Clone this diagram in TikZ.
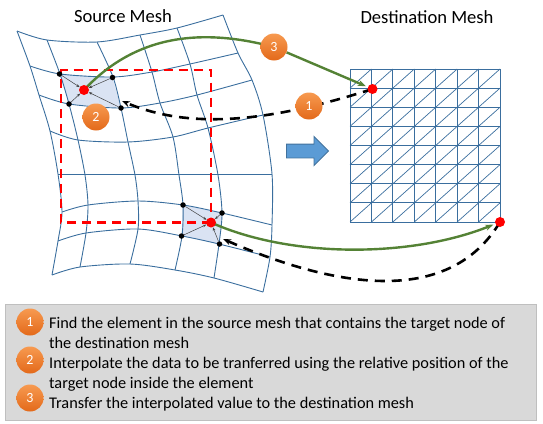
\documentclass[tikz,border=0pt]{standalone}
\usepackage{fontspec}
\setmainfont{Carlito}
\usepackage{xcolor}
\usepackage{tikz}
\usetikzlibrary{arrows.meta,positioning,shapes.arrows,backgrounds}
\definecolor{meshblue}{HTML}{3A6E9E}
\definecolor{cellfill}{HTML}{DAE3F3}
\definecolor{movegreen}{HTML}{548235}
\definecolor{arrowblue}{HTML}{5B9BD5}
\definecolor{arrowedge}{HTML}{41719C}
\definecolor{badgetop}{HTML}{F79A50}
\definecolor{badgelow}{HTML}{E3691A}

\begin{document}
\begin{tikzpicture}[
    x=1pt, y=-1pt,
    title/.style={font=\fontsize{18.6}{22}\selectfont, inner sep=0pt},
    legendtext/.style={font=\fontsize{16.3}{20}\selectfont, align=left, anchor=north west, inner sep=0pt},
    badge/.style={circle, minimum size=27pt, inner sep=0pt, text=white, font=\fontsize{14}{16}\selectfont, top color=badgetop, bottom color=badgelow},
    corner/.style={circle, fill=black, minimum size=5.5pt, inner sep=0pt},
    target/.style={circle, fill=red, minimum size=10pt, inner sep=0pt},
    mesh/.style={meshblue, line width=0.9pt},
    cell/.style={fill=cellfill},
    redbox/.style={red, line width=2.7pt, dash pattern=on 9pt off 6pt},
    pull/.style={-{Stealth[length=3.5pt]}, black!75, line width=0.5pt},
    send/.style={-{Stealth[length=8pt]}, movegreen, line width=2.4pt, shorten >=2pt},
    back/.style={-{Stealth[length=8pt]}, black, line width=2.6pt, dash pattern=on 10pt off 7pt}
]
\useasboundingbox (0,0) rectangle (543,423);
\node[draw=black!25, fill=black!15, line width=0.8pt, minimum width=531pt, minimum height=116pt, inner sep=0pt] (legend) at (270.5,362) {};

\node[title] (srctitle) at (123,16) {Source Mesh};
\node[title] (dsttitle) at (427,17) {Destination Mesh};

\node[corner] (cornerA) at (59.5,74) {};
\node[corner] (cornerB) at (112.5,77.5) {};
\node[corner] (cornerC) at (121,108) {};
\node[corner] (cornerD) at (69,104) {};
\node[corner] (cornerE) at (183,205) {};
\node[corner] (cornerF) at (222,213) {};
\node[corner] (cornerG) at (219.5,244) {};
\node[corner] (cornerH) at (181.5,236) {};
\node[target] (srcA) at (84,90) {};
\node[target] (srcB) at (211,222.5) {};
\node[target] (dstA) at (372.5,89) {};
\node[target] (dstB) at (500,222) {};
\coordinate (tipA) at (122,101);
\coordinate (tipB) at (223,239);

\node[badge] (numA) at (309,106) {1};
\node[badge] (numB) at (96,117) {2};
\node[badge] (numC) at (274,47) {3};
\node[single arrow, draw=arrowedge, fill=arrowblue, line width=0.9pt, minimum height=42pt, inner xsep=0pt, inner ysep=6.5pt, single arrow head extend=7.5pt, single arrow head indent=0pt] (flow) at (304,151) {};

\node[badge] (keyA) at (30,322) {1};
\node[badge] (keyB) at (30,360) {2};
\node[badge] (keyC) at (30,398) {3};
\node[legendtext] (stepA) at (49,316.5) {Find the element in the source mesh that contains the target node of\\the destination mesh};
\node[legendtext] (stepB) at (49,356.5) {Interpolate the data to be tranferred using the relative position of the\\target node inside the element};
\node[legendtext] (stepC) at (49,396.5) {Transfer the interpolated value to the destination mesh};

\begin{scope}[on background layer]
\fill[cell] (cornerA.center) -- (cornerB.center) -- (cornerC.center) -- (cornerD.center) -- cycle;
\fill[cell] (cornerE.center) -- (cornerF.center) -- (cornerG.center) -- (cornerH.center) -- cycle;
\draw[mesh] plot[smooth] coordinates {(17,31) (47,40) (97,42) (140,35) (177,28) (223,15)};
\draw[mesh] plot[smooth] coordinates {(30,66) (60,74) (113,77) (152,72) (190,64) (238,53)};
\draw[mesh] plot[smooth] coordinates {(39,95) (69,104) (121,108) (160,103) (197,95) (252,80)};
\draw[mesh] plot[smooth] coordinates {(50,131) (78,140) (128,142) (173,137) (208,128) (263,115)};
\draw[mesh] (58,174) -- (272,174);
\draw[mesh] plot[smooth] coordinates {(62,212) (88,205) (138,201) (183,205) (222,213) (272,225)};
\draw[mesh] plot[smooth] coordinates {(58,241) (86,233) (138,229) (182,236) (219,244) (270,257)};
\draw[mesh] plot[smooth] coordinates {(52,275) (80,267) (130,264) (175,270) (214,278) (263,292)};
\draw[mesh] plot[smooth] coordinates {(17,31) (30,66) (39,95) (50,131) (58,174) (62,212) (58,241) (52,275)};
\draw[mesh] plot[smooth] coordinates {(47,40) (60,74) (69,104) (78,140) (85,175) (88,205) (86,233) (80,267)};
\draw[mesh] plot[smooth] coordinates {(97,42) (113,77) (121,108) (128,142) (135,175) (138,201) (138,229) (130,264)};
\draw[mesh] plot[smooth] coordinates {(140,35) (152,72) (160,103) (173,137) (179,175) (183,205) (182,236) (175,270)};
\draw[mesh] plot[smooth] coordinates {(177,28) (190,64) (197,95) (208,128) (218,175) (222,213) (219,244) (214,278)};
\draw[mesh] plot[smooth] coordinates {(223,15) (238,53) (252,80) (263,115) (272,174) (272,225) (270,257) (263,292)};
\foreach \i in {0,...,7} {
    \draw[mesh] ({350+\i*150/7},69) -- ({350+\i*150/7},222);
}
\foreach \i in {0,...,8} {
    \draw[mesh] (350,{69+\i*153/8}) -- (500,{69+\i*153/8});
}
\foreach \i in {0,...,6} {
    \foreach \j in {0,...,7} {
        \draw[mesh, line width=0.7pt] ({350+\i*150/7},{69+(\j+1)*153/8}) -- ({350+(\i+1)*150/7},{69+\j*153/8});
    }
}
\draw[redbox] (srcB.center) -- (61,222.5) -- (61,70) -- (211,70) -- (srcB.center);
\foreach \c in {cornerA,cornerB,cornerC,cornerD} {
    \draw[pull] (\c) -- (srcA);
}
\foreach \c in {cornerE,cornerF,cornerG,cornerH} {
    \draw[pull] (\c) -- (srcB);
}
\draw[movegreen, line width=2.4pt] (srcA.center) .. controls (140,30) and (210,30) .. (numC.center);
\draw[send] (numC) -- (dstA);
\draw[send] (srcB.center) .. controls (290,258) and (410,258) .. (dstB);
\draw[back] (dstA.center) .. controls (270,122) and (190,130) .. (tipA);
\draw[back] (dstB.center) .. controls (450,305) and (340,290) .. (tipB);
\end{scope}
\end{tikzpicture}
\end{document}
